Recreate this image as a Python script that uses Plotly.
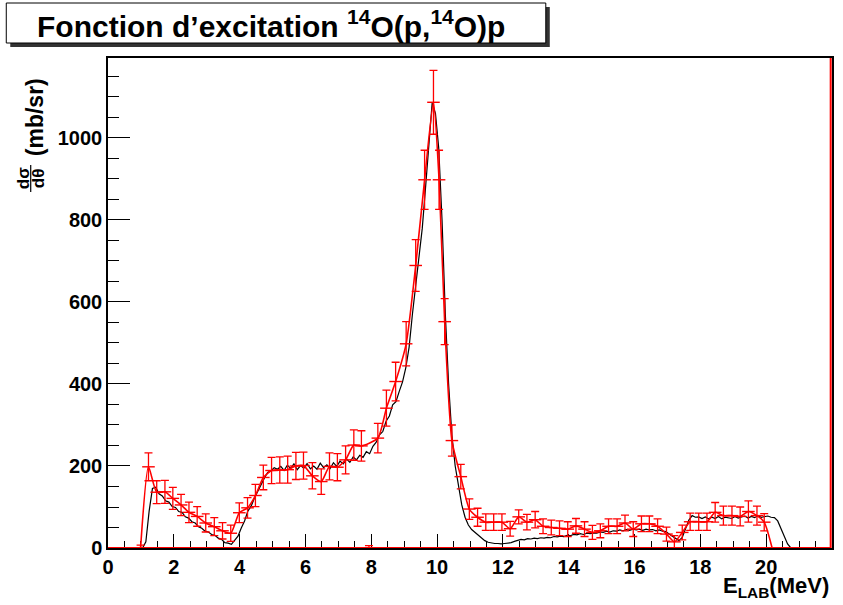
import numpy as np
import plotly.graph_objects as go

# black curve: simulated histogram, 0.1 MeV bins from 0 to 22 MeV
black_range = (0.0, 22.0)
black_counts = [
    0, 0, 0, 0, 0, 0, 0, 0, 0, 0, 0, 15, 90, 145, 148, 132, 127, 115, 112, 101,
    99, 89, 87, 76, 73, 64, 61, 52, 48, 41, 39, 33, 31, 24, 21, 13, 12, 9, 19, 29,
    49, 66, 90, 102, 122, 138, 157, 170, 184, 188, 196, 192, 199, 189, 202, 194, 205, 191, 201, 195,
    206, 193, 200, 192, 207, 196, 203, 194, 208, 199, 212, 205, 217, 209, 222, 215, 226, 221, 235, 230,
    248, 258, 276, 284, 309, 322, 349, 357, 382, 405, 440, 490, 570, 645, 705, 780, 880, 990, 1085, 1060,
    975, 800, 570, 400, 275, 200, 150, 105, 75, 56, 45, 38, 30, 23, 18, 14, 12, 11, 11, 10,
    11, 12, 13, 16, 18, 21, 20, 23, 22, 24, 23, 25, 24, 26, 25, 28, 27, 29, 28, 31,
    30, 33, 32, 35, 33, 36, 35, 37, 36, 39, 38, 41, 39, 42, 41, 44, 42, 45, 43, 46,
    44, 46, 43, 46, 44, 45, 42, 44, 41, 40, 34, 28, 22, 18, 26, 45, 68, 79, 75, 76,
    72, 76, 71, 75, 72, 77, 71, 75, 74, 72, 77, 73, 76, 78, 73, 77, 74, 79, 75, 76,
    78, 75, 74, 66, 48, 28, 10, 0, 0, 0, 0, 0, 0, 0, 0, 0, 0, 0, 0, 0,
]

# red: measured excitation function with errors
red_e = [0.99, 1.23, 1.48, 1.73, 1.97, 2.22, 2.46, 2.71, 2.97, 3.23, 3.48, 3.73,
         3.99, 4.24, 4.48, 4.72, 4.97, 5.22, 5.46, 5.71, 5.94, 6.21, 6.48, 6.73,
         6.97, 7.22, 7.47, 7.70, 8.20, 8.46, 8.74, 9.06, 9.35, 9.62, 9.89, 10.06,
         10.23, 10.45, 10.72, 10.98, 11.23, 11.48, 11.72, 11.97, 12.22, 12.48, 12.73, 12.98,
         13.22, 13.47, 13.72, 13.97, 14.22, 14.48, 14.72, 14.96, 15.21, 15.47, 15.71, 15.96,
         16.21, 16.45, 16.70, 16.97, 17.21, 17.45, 17.69, 17.95, 18.20, 18.45, 18.70, 18.96,
         19.21, 19.46, 19.72, 19.94, 20.18]
red_xs = [0, 198, 136, 137, 121, 105, 87, 77, 61, 52, 42, 36,
          86, 98, 128, 172, 189, 190, 191, 200, 201, 176, 162, 199,
          197, 215, 251, 249, 268, 341, 406, 498, 689, 898, 1087, 898,
          552, 262, 174, 95, 75, 63, 63, 63, 47, 76, 63, 69,
          53, 50, 48, 46, 54, 46, 38, 42, 53, 53, 61, 46,
          59, 59, 53, 34, 15, 38, 64, 64, 64, 87, 79, 79,
          77, 89, 79, 63, 0]
red_err = [7, 34, 28, 28, 27, 26, 25, 24, 22, 22, 20, 20,
           24, 25, 27, 30, 32, 32, 33, 33, 33, 32, 31, 33,
           33, 34, 37, 37, 36, 44, 47, 54, 63, 72, 78, 72,
           56, 38, 30, 25, 22, 20, 20, 20, 18, 17, 19, 20,
           18, 18, 18, 18, 18, 18, 17, 17, 18, 18, 19, 18,
           19, 19, 18, 17, 15, 18, 21, 21, 21, 24, 23, 23,
           23, 26, 23, 21, 0]
# lone empty point
red_zero_e = [7.93]
red_zero_err = [6]

RED = "#ff0000"
L, R, T, B = 108, 9, 58, 57
W, H = 843, 605
pw, ph = W - L - R, H - T - B


def px(x):
    return (x - L) / pw


def py(y):
    return (H - B - y) / ph


edges = np.linspace(black_range[0], black_range[1], len(black_counts) + 1)
centers = (edges[:-1] + edges[1:]) / 2

fig = go.Figure()
fig.add_trace(go.Scatter(x=centers, y=black_counts, mode="lines", line=dict(color="black", width=1.2),
                         hoverinfo="skip"))
# red zero line along the bottom and up the right edge
fig.add_trace(go.Scatter(x=[0, 21.96, 21.96], y=[0, 0, 1300], mode="lines",
                         line=dict(color=RED, width=2), hoverinfo="skip"))
fig.add_trace(go.Scatter(x=red_e, y=red_xs, mode="lines+markers",
                         line=dict(color=RED, width=1.6, shape="spline", smoothing=0.6),
                         marker=dict(symbol="line-ew-open", size=9, color=RED,
                                     line=dict(color=RED, width=1.4)),
                         error_y=dict(type="data", array=red_err, color=RED,
                                      thickness=1.3, width=4)))
fig.add_trace(go.Scatter(x=red_zero_e, y=[0], mode="markers",
                         marker=dict(symbol="line-ew-open", size=9, color=RED,
                                     line=dict(color=RED, width=1.4)),
                         error_y=dict(type="data", array=red_zero_err, color=RED,
                                      thickness=1.3, width=4)))

font = "Liberation Sans, Arial, Helvetica, sans-serif"
fig.update_layout(
    width=W, height=H, showlegend=False,
    margin=dict(l=L, r=R, t=T, b=B),
    plot_bgcolor="white", paper_bgcolor="white",
    font=dict(family=font, color="black"),
    xaxis=dict(range=[0, 22], tickvals=list(range(0, 23, 2)), ticks="inside", ticklen=14,
               tickcolor="black", tickwidth=1, showgrid=False, zeroline=False,
               showline=True, linecolor="black", linewidth=1.5, mirror=True,
               layer="below traces",
               tickfont=dict(size=20, family=font, weight="bold"),
               minor=dict(dtick=0.5, ticks="inside", ticklen=7, tickcolor="black")),
    yaxis=dict(range=[0, 1195], tickvals=list(range(0, 1001, 200)), ticks="inside", ticklen=22,
               tickcolor="black", tickwidth=1, showgrid=False, zeroline=False,
               showline=True, linecolor="black", linewidth=1.5, mirror=True,
               layer="below traces",
               tickfont=dict(size=20, family=font, weight="bold"),
               minor=dict(dtick=50, ticks="inside", ticklen=11, tickcolor="black")),
)


def label(x, y, text, size, angle=0, xanchor="center"):
    fig.add_annotation(xref="paper", yref="paper", x=px(x), y=py(y), showarrow=False,
                       xanchor=xanchor, yanchor="middle", textangle=angle, text=text,
                       font=dict(size=size, family=font, weight="bold"))


# title box with shadow
fig.add_shape(type="rect", xref="paper", yref="paper", x0=px(10), x1=px(551), y0=py(47), y1=py(7),
              fillcolor="#333333", line=dict(width=0), layer="above")
fig.add_shape(type="rect", xref="paper", yref="paper", x0=px(6), x1=px(547), y0=py(43), y1=py(3),
              fillcolor="white", line=dict(color="black", width=1), layer="above")
label(271, 24, "Fonction d\u2019excitation <sup>14</sup>O(p,<sup>14</sup>O)p", 30)

# y title as fraction
label(23, 178, "d\u03c3", 17, -90)
label(38, 178, "d\u03b8", 17, -90)
fig.add_shape(type="line", xref="paper", yref="paper", x0=px(30.5), x1=px(30.5), y0=py(165), y1=py(192),
              line=dict(color="black", width=1.2))
label(35, 117, "(mb/sr)", 23, -90)

# x title
label(833, 587, "E<sub>LAB</sub>(MeV)", 22, xanchor="right")

fig.write_html("out.html", config={"displayModeBar": False},
               post_script="document.body.style.margin='0';")
